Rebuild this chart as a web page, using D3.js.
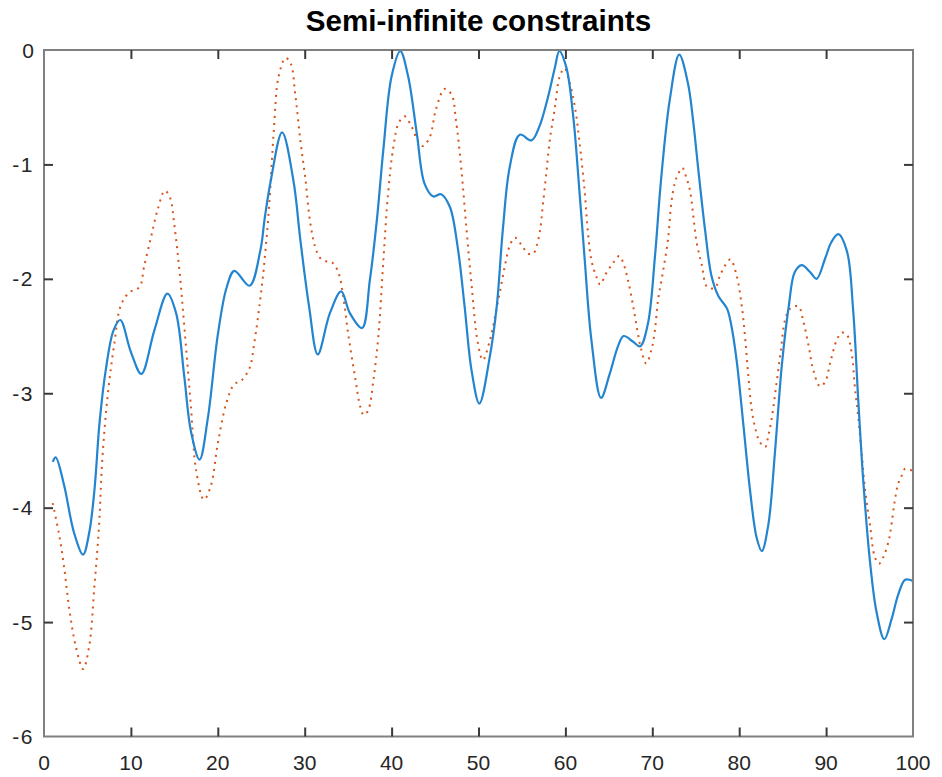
<!DOCTYPE html>
<html>
<head>
<meta charset="utf-8">
<script src="https://cdn.jsdelivr.net/npm/d3@7"></script>
<style>
  html, body { margin: 0; padding: 0; background: #fff; }
  svg { display: block; }
</style>
</head>
<body>
<svg id="chart" width="942" height="777"></svg>
<script>
const titleText = "Semi-infinite constraints";
const xTicks = [0, 10, 20, 30, 40, 50, 60, 70, 80, 90, 100];
const yTicks = [0, -1, -2, -3, -4, -5, -6];

const blueX = [1.0, 1.35, 2.3, 3.46, 4.5, 5.2, 5.8, 6.4, 7.1, 8.0, 8.77, 10.0, 11.2, 12.7, 14.2, 15.2, 16.15, 16.9, 17.9, 18.85, 20.0, 21.0, 21.9, 23.65, 24.9, 25.4, 26.1, 27.4, 28.7, 29.5, 30.5, 31.5, 32.9, 34.2, 35.2, 36.6, 37.5, 38.3, 39.05, 40.0, 41.0, 41.9, 42.9, 43.8, 44.8, 45.7, 46.7, 47.6, 48.4, 49.2, 50.1, 51.3, 52.1, 52.8, 53.6, 54.75, 56.1, 57.0, 58.0, 58.8, 59.3, 60.1, 60.9, 61.6, 62.2, 63.0, 64.1, 65.1, 66.05, 66.7, 67.8, 68.6, 69.5, 70.3, 71.0, 72.0, 73.1, 74.1, 74.7, 75.3, 76.1, 76.8, 77.6, 78.6, 79.1, 79.7, 80.5, 81.25, 82.0, 82.6, 83.35, 84.1, 84.9, 85.7, 86.4, 87.2, 88.15, 88.9, 89.9, 90.6, 91.4, 92.4, 93.1, 93.7, 94.3, 95.05, 95.8, 96.7, 97.55, 98.3, 99.1, 100.0];
const blueY = [-3.60, -3.56, -3.80, -4.22, -4.41, -4.22, -3.85, -3.25, -2.80, -2.45, -2.36, -2.64, -2.83, -2.45, -2.13, -2.30, -2.86, -3.33, -3.58, -3.22, -2.49, -2.08, -1.93, -2.06, -1.75, -1.47, -1.14, -0.72, -1.14, -1.66, -2.24, -2.66, -2.30, -2.11, -2.30, -2.43, -2.01, -1.49, -0.87, -0.23, -0.01, -0.23, -0.73, -1.17, -1.28, -1.26, -1.37, -1.72, -2.24, -2.80, -3.09, -2.68, -2.24, -1.57, -1.02, -0.74, -0.79, -0.67, -0.41, -0.15, -0.01, -0.15, -0.58, -1.22, -1.81, -2.54, -3.04, -2.83, -2.59, -2.50, -2.55, -2.59, -2.39, -1.81, -1.14, -0.44, -0.04, -0.29, -0.62, -1.05, -1.59, -1.97, -2.15, -2.26, -2.41, -2.71, -3.29, -3.85, -4.26, -4.38, -4.15, -3.53, -2.76, -2.24, -1.94, -1.88, -1.94, -2.00, -1.82, -1.68, -1.61, -1.76, -2.26, -3.06, -3.79, -4.47, -4.91, -5.15, -4.97, -4.76, -4.63, -4.64];

const redX = [1.0, 1.7, 2.3, 2.9, 3.65, 4.5, 5.2, 5.8, 6.35, 6.7, 7.3, 8.1, 8.85, 9.8, 11.0, 11.5, 12.3, 13.1, 13.9, 14.5, 15.0, 15.6, 16.15, 16.9, 17.5, 18.4, 19.2, 20.0, 21.0, 21.9, 22.7, 23.65, 24.2, 24.85, 25.3, 25.9, 26.45, 27.0, 27.8, 28.4, 28.9, 29.5, 30.1, 30.6, 31.2, 31.8, 32.6, 33.2, 33.9, 34.5, 35.0, 35.8, 36.4, 36.8, 37.3, 37.9, 38.5, 39.05, 39.6, 40.2, 40.8, 41.5, 42.3, 43.0, 43.6, 44.4, 45.1, 46.1, 46.9, 47.4, 48.0, 48.6, 49.2, 49.9, 50.5, 51.3, 51.9, 52.5, 53.0, 53.6, 54.2, 55.0, 55.7, 56.3, 56.7, 57.1, 57.4, 57.8, 58.2, 58.8, 59.35, 59.9, 60.5, 61.1, 61.6, 62.2, 62.6, 63.0, 63.6, 64.0, 64.7, 65.5, 66.2, 66.6, 67.2, 67.8, 68.35, 68.7, 69.3, 69.9, 70.3, 70.65, 71.2, 71.8, 72.2, 72.6, 73.0, 73.45, 73.9, 74.34, 74.7, 75.1, 75.7, 76.3, 77.2, 77.8, 78.4, 79.0, 79.7, 80.3, 80.7, 81.05, 81.4, 81.8, 82.4, 83.0, 83.35, 83.7, 84.3, 84.8, 85.3, 85.85, 86.8, 87.4, 88.0, 88.5, 89.3, 89.9, 90.45, 91.2, 91.8, 92.4, 92.95, 93.3, 93.7, 94.1, 94.5, 95.05, 95.6, 96.1, 96.6, 97.2, 97.55, 97.9, 98.3, 98.7, 99.1, 100.0];
const redY = [-3.96, -4.22, -4.51, -4.88, -5.21, -5.41, -5.21, -4.69, -4.14, -3.59, -3.04, -2.56, -2.23, -2.12, -2.07, -1.90, -1.64, -1.39, -1.23, -1.29, -1.53, -1.94, -2.42, -3.11, -3.67, -3.93, -3.81, -3.44, -3.08, -2.92, -2.89, -2.78, -2.56, -2.20, -1.90, -1.37, -0.70, -0.23, -0.07, -0.12, -0.38, -0.79, -1.14, -1.49, -1.72, -1.82, -1.85, -1.86, -1.95, -2.19, -2.48, -2.86, -3.12, -3.19, -3.15, -2.89, -2.48, -1.84, -1.25, -0.85, -0.64, -0.58, -0.67, -0.79, -0.84, -0.76, -0.52, -0.34, -0.39, -0.61, -1.02, -1.55, -2.05, -2.55, -2.71, -2.54, -2.33, -2.10, -1.90, -1.71, -1.64, -1.71, -1.78, -1.78, -1.71, -1.57, -1.36, -1.08, -0.79, -0.50, -0.23, -0.16, -0.29, -0.50, -0.79, -1.22, -1.60, -1.84, -1.99, -2.05, -1.95, -1.86, -1.80, -1.85, -2.01, -2.24, -2.48, -2.61, -2.74, -2.62, -2.45, -2.19, -1.95, -1.66, -1.33, -1.16, -1.08, -1.03, -1.11, -1.23, -1.44, -1.68, -1.88, -2.07, -2.08, -1.97, -1.88, -1.83, -1.97, -2.24, -2.53, -2.85, -3.12, -3.29, -3.43, -3.47, -3.37, -3.24, -2.91, -2.62, -2.35, -2.26, -2.24, -2.38, -2.59, -2.79, -2.94, -2.90, -2.74, -2.54, -2.47, -2.49, -2.65, -2.94, -3.21, -3.53, -3.85, -4.15, -4.43, -4.49, -4.43, -4.29, -4.13, -3.94, -3.79, -3.72, -3.66, -3.68];

const svg = d3.select("#chart");
const mLeft = 44, mRight = 913, mTop = 50, mBottom = 736.5;

const x = d3.scaleLinear().domain([0, 100]).range([mLeft, mRight]);
const y = d3.scaleLinear().domain([-6, 0]).range([mBottom, mTop]);

const font = "'Liberation Sans', Arial, Helvetica, sans-serif";
const textColor = "#262626";

// title
svg.append("text")
  .attr("x", (mLeft + mRight) / 2)
  .attr("y", 31)
  .attr("text-anchor", "middle")
  .attr("font-family", font)
  .attr("font-weight", "bold")
  .attr("font-size", 29.6)
  .attr("fill", "#000")
  .text(titleText);

// series
const blueData = blueX.map((v, i) => [v, blueY[i]]);
const redData = redX.map((v, i) => [v, redY[i]]);
const line = d3.line()
  .x(d => x(d[0]))
  .y(d => y(d[1]))
  .curve(d3.curveCatmullRom.alpha(0.5));

svg.append("path")
  .datum(redData)
  .attr("d", line)
  .attr("fill", "none")
  .attr("stroke", "#D95319")
  .attr("stroke-width", 2)
  .attr("stroke-dasharray", "2,5");

svg.append("path")
  .datum(blueData)
  .attr("d", line)
  .attr("fill", "none")
  .attr("stroke", "#2384CF")
  .attr("stroke-width", 2.2);

// axes box
const boxColor = "#808080";
svg.append("rect")
  .attr("x", mLeft).attr("y", mTop)
  .attr("width", mRight - mLeft).attr("height", mBottom - mTop)
  .attr("fill", "none")
  .attr("stroke", boxColor)
  .attr("stroke-width", 2);

const tickLen = 9;
const inner = xTicks.filter(t => t > 0 && t < 100);
const innerY = yTicks.filter(t => t > -6 && t < 0);

const xAxisBottom = d3.axisBottom(x).tickValues(inner).tickSize(-tickLen).tickFormat("");
const xAxisTop = d3.axisTop(x).tickValues(inner).tickSize(-tickLen).tickFormat("");
const yAxisLeft = d3.axisLeft(y).tickValues(innerY).tickSize(-tickLen).tickFormat("");
const yAxisRight = d3.axisRight(y).tickValues(innerY).tickSize(-tickLen).tickFormat("");

function styleAxis(g) {
  g.select(".domain").remove();
  g.selectAll(".tick line").attr("stroke", "#3a3a3a").attr("stroke-width", 2);
}
svg.append("g").attr("transform", `translate(0,${mBottom})`).call(xAxisBottom).call(styleAxis);
svg.append("g").attr("transform", `translate(0,${mTop})`).call(xAxisTop).call(styleAxis);
svg.append("g").attr("transform", `translate(${mLeft},0)`).call(yAxisLeft).call(styleAxis);
svg.append("g").attr("transform", `translate(${mRight},0)`).call(yAxisRight).call(styleAxis);

// tick labels
svg.append("g").selectAll("text")
  .data(xTicks).join("text")
  .attr("x", d => x(d))
  .attr("y", 770)
  .attr("text-anchor", "middle")
  .attr("font-family", font)
  .attr("font-size", 21)
  .attr("fill", textColor)
  .text(d => d);

svg.append("g").selectAll("text")
  .data(yTicks).join("text")
  .attr("x", 34)
  .attr("y", d => y(d) + 7.5)
  .attr("text-anchor", "end")
  .attr("font-family", font)
  .attr("font-size", 21)
  .attr("letter-spacing", d => d < 0 ? 1.5 : 0)
  .attr("fill", textColor)
  .text(d => d);
</script>
</body>
</html>
